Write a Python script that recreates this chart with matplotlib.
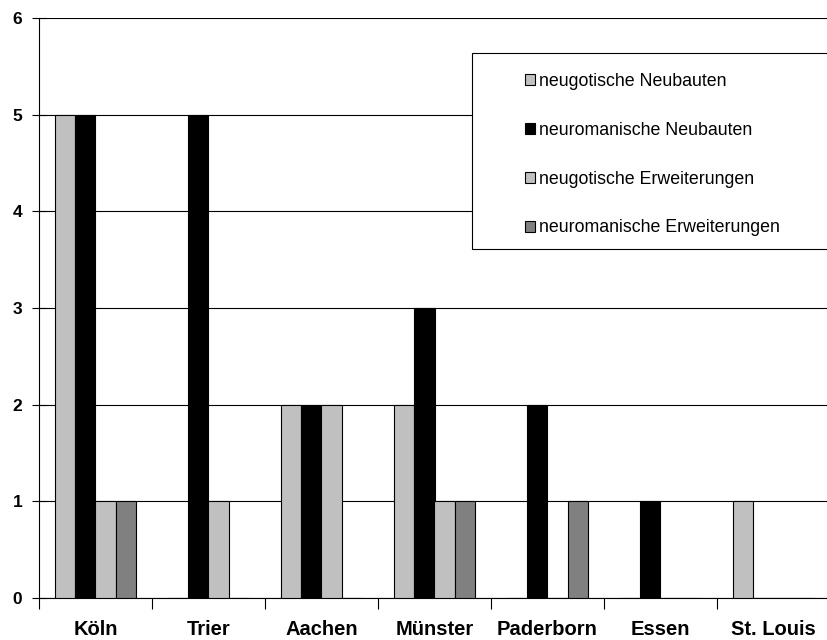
import matplotlib.pyplot as plt
import matplotlib.patches as mpatches
import numpy as np

# data
cities = ['Köln', 'Trier', 'Aachen', 'Münster', 'Paderborn', 'Essen', 'St. Louis']
neugot_neubau = [5, 0, 2, 2, 0, 0, 1]
neurom_neubau = [5, 5, 2, 3, 2, 1, 0]
neugot_erw = [1, 1, 2, 1, 0, 0, 0]
neurom_erw = [1, 0, 0, 1, 1, 0, 0]

series = [
	('neugotische Neubauten', neugot_neubau, '#c0c0c0'),
	('neuromanische Neubauten', neurom_neubau, '#000000'),
	('neugotische Erweiterungen', neugot_erw, '#c0c0c0'),
	('neuromanische Erweiterungen', neurom_erw, '#808080'),
]

plt.rcParams['font.family'] = ['Liberation Sans', 'DejaVu Sans']

W, H = 827, 640
fig = plt.figure(figsize=(W / 100, H / 100), dpi=100)
# plot area runs slightly past the right edge, like the original
ax = fig.add_axes([39 / W, 1 - 598 / H, 791 / W, 580 / H])

x = np.arange(len(cities))
bw = 0.18
handles = []
for k, (name, vals, col) in enumerate(series):
	b = ax.bar(x + (k - 1.5) * bw, vals, bw, color=col, edgecolor='black',
		linewidth=0.8, label=name, zorder=3)
	handles.append(b)

ax.set_xlim(-0.5, len(cities) - 0.5)
ax.set_ylim(0, 6)
ax.set_yticks(range(0, 7))
ax.yaxis.grid(True, color='black', linewidth=0.8, zorder=0)

ax.set_xticks(x)
ax.set_xticklabels(cities, fontsize=14.5, fontweight='bold')
ax.set_xticks(np.arange(-0.5, len(cities), 1), minor=True)
ax.tick_params(axis='x', which='major', length=0, pad=15.5)
ax.tick_params(axis='x', which='minor', length=8, direction='out', width=0.8)
ax.tick_params(axis='y', length=10, direction='inout', width=0.8, pad=7,
	labelsize=12.5)
for lab in ax.get_yticklabels():
	lab.set_fontweight('bold')

for s in ['top', 'right']:
	ax.spines[s].set_visible(False)
for s in ['left', 'bottom']:
	ax.spines[s].set_linewidth(0.8)

# legend box
box = mpatches.Rectangle((472 / W, 1 - 249 / H), 370 / W, 196 / H,
	transform=fig.transFigure, facecolor='white', edgecolor='black',
	linewidth=0.8, zorder=5)
fig.patches.append(box)
leg = fig.legend(handles=handles, loc='upper left',
	bbox_to_anchor=(516 / W, 1 - 64 / H), frameon=False, fontsize=12.75,
	handlelength=0.55, handleheight=0.55, handletextpad=0.25,
	labelspacing=1.8, borderpad=0)
leg.set_zorder(6)

fig.savefig('out.png', dpi=100)
